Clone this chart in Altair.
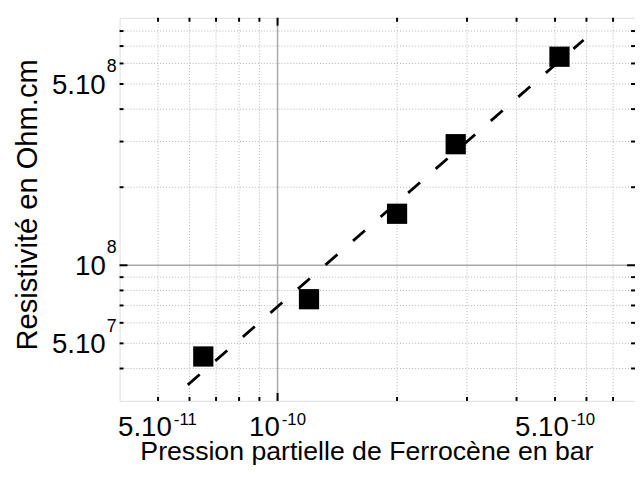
import altair as alt
import pandas as pd

# measured data (log-log)
pressure = [6.5e-11, 1.20e-10, 2.0e-10, 2.81e-10, 5.13e-10]
resistivity = [4.45e7, 7.4e7, 1.58e8, 2.93e8, 6.37e8]

# fitted dashed line end points
fit_pressure = [5.94e-11, 5.90e-10]
fit_resistivity = [3.46e7, 7.39e8]

# tick / grid positions
x_minor = [5e-11, 6e-11, 7e-11, 8e-11, 9e-11, 2e-10, 3e-10, 4e-10, 5e-10, 6e-10, 7e-10]
x_major = [1e-10]
y_minor = [4e7, 5e7, 6e7, 7e7, 8e7, 9e7, 2e8, 3e8, 4e8, 5e8, 6e8, 7e8, 8e8]
y_major = [1e8]

# tick labels: mantissa part and exponent part
x_label_values = [5e-11, 1e-10, 5e-10]
x_label_base = ["5.10", "10", "5.10"]
x_label_exp = ["-11", "-10", "-10"]
y_label_values = [5e7, 1e8, 5e8]
y_label_base = ["5.10", "10", "5.10"]
y_label_exp = ["7", "8", "8"]

W, H = 522, 388
FONT = "Liberation Sans"
BASE_SIZE = 28
EXP_SIZE = 17
CHAR_W = {"0": 0.556, "1": 0.556, "5": 0.556, "7": 0.556, "8": 0.556, ".": 0.278, "-": 0.333}


def text_width(s, size):
    return sum(CHAR_W.get(c, 0.556) for c in s) * size


xs = alt.Scale(type="log", domain=[4e-11, 7.95e-10], nice=False)
ys = alt.Scale(type="log", domain=[3e7, 9e8], nice=False)

x_axis = alt.Axis(
    labels=False, ticks=False, grid=False, domain=False,
    titleFont=FONT, titleFontSize=27, titleFontWeight="normal", titleColor="black",
    titleX=250, titleY=59, titleBaseline="alphabetic", titleAlign="center",
)
y_axis = alt.Axis(
    labels=False, ticks=False, grid=False, domain=False,
    titleFont=FONT, titleFontSize=29.5, titleFontWeight="normal", titleColor="black",
    titleX=-93, titleY=189, titleBaseline="middle", titleAlign="center", titleAngle=270,
)

X = alt.X("x:Q", scale=xs, axis=x_axis, title="Pression partielle de Ferrocène en bar")
Y = alt.Y("y:Q", scale=ys, axis=y_axis, title="Resistivité en Ohm.cm")

df_pts = pd.DataFrame({"x": pressure, "y": resistivity})
df_fit = pd.DataFrame({"x": fit_pressure, "y": fit_resistivity})
df_xmin = pd.DataFrame({"x": x_minor})
df_xmaj = pd.DataFrame({"x": x_major})
df_ymin = pd.DataFrame({"y": y_minor})
df_ymaj = pd.DataFrame({"y": y_major})

grid_minor_x = alt.Chart(df_xmin).mark_rule(color="#b4b4b4", strokeWidth=1, strokeDash=[1, 2]).encode(x=X)
grid_minor_y = alt.Chart(df_ymin).mark_rule(color="#b4b4b4", strokeWidth=1, strokeDash=[1, 2]).encode(y=Y)
grid_major_x = alt.Chart(df_xmaj).mark_rule(color="#a8a8a8", strokeWidth=1.5).encode(x=X)
grid_major_y = alt.Chart(df_ymaj).mark_rule(color="#a8a8a8", strokeWidth=1.5).encode(y=Y)

fit = alt.Chart(df_fit).mark_line(color="black", strokeWidth=2.8, strokeDash=[16, 21]).encode(x=X, y=Y)
pts = alt.Chart(df_pts).mark_point(shape="square", filled=True, size=420, color="black", opacity=1).encode(x=X, y=Y)


def xticks(df, length):
    bottom = alt.Chart(df).mark_rule(color="black", strokeWidth=2).encode(
        x=X, y=alt.value(H), y2=alt.value(H - length))
    top = alt.Chart(df).mark_rule(color="black", strokeWidth=2).encode(
        x=X, y=alt.value(0), y2=alt.value(length))
    return [bottom, top]


def yticks(df, length):
    left = alt.Chart(df).mark_rule(color="black", strokeWidth=2).encode(
        y=Y, x=alt.value(0), x2=alt.value(length))
    right = alt.Chart(df).mark_rule(color="black", strokeWidth=2).encode(
        y=Y, x=alt.value(W), x2=alt.value(W - length))
    return [left, right]


layers = [grid_minor_x, grid_minor_y, grid_major_x, grid_major_y, fit, pts]
layers += xticks(df_xmin, 4) + xticks(df_xmaj, 8) + yticks(df_ymin, 4) + yticks(df_ymaj, 8)

# x tick labels: base + superscript, centred as a whole on the tick
for v, b, e in zip(x_label_values, x_label_base, x_label_exp):
    d = pd.DataFrame({"x": [v], "b": [b], "e": [e]})
    split = (text_width(b, BASE_SIZE) - text_width(e, EXP_SIZE)) / 2
    layers.append(alt.Chart(d).mark_text(
        font=FONT, fontSize=BASE_SIZE, color="black", align="right", baseline="alphabetic", dx=split - 1
    ).encode(x=X, y=alt.value(H + 36), text="b:N"))
    layers.append(alt.Chart(d).mark_text(
        font=FONT, fontSize=EXP_SIZE, color="black", align="left", baseline="alphabetic", dx=split + 1
    ).encode(x=X, y=alt.value(H + 24), text="e:N"))

# y tick labels: right aligned next to the axis
df_yl = pd.DataFrame({"y": y_label_values, "b": y_label_base, "e": y_label_exp})
layers.append(alt.Chart(df_yl).mark_text(
    font=FONT, fontSize=BASE_SIZE, color="black", align="right", baseline="alphabetic", dy=10
).encode(y=Y, x=alt.value(-14), text="b:N"))
layers.append(alt.Chart(df_yl).mark_text(
    font=FONT, fontSize=EXP_SIZE + 1, color="black", align="left", baseline="alphabetic", dy=-12
).encode(y=Y, x=alt.value(-13), text="e:N"))

chart = alt.layer(*layers).properties(
    width=W, height=H,
    autosize=alt.AutoSizeParams(type="none"),
    padding={"left": 113, "top": 7, "right": 0, "bottom": 62},
).configure_view(stroke="black", strokeWidth=2.5).configure(background="white")

chart.save("out.html", embed_options={"renderer": "svg", "actions": False})
